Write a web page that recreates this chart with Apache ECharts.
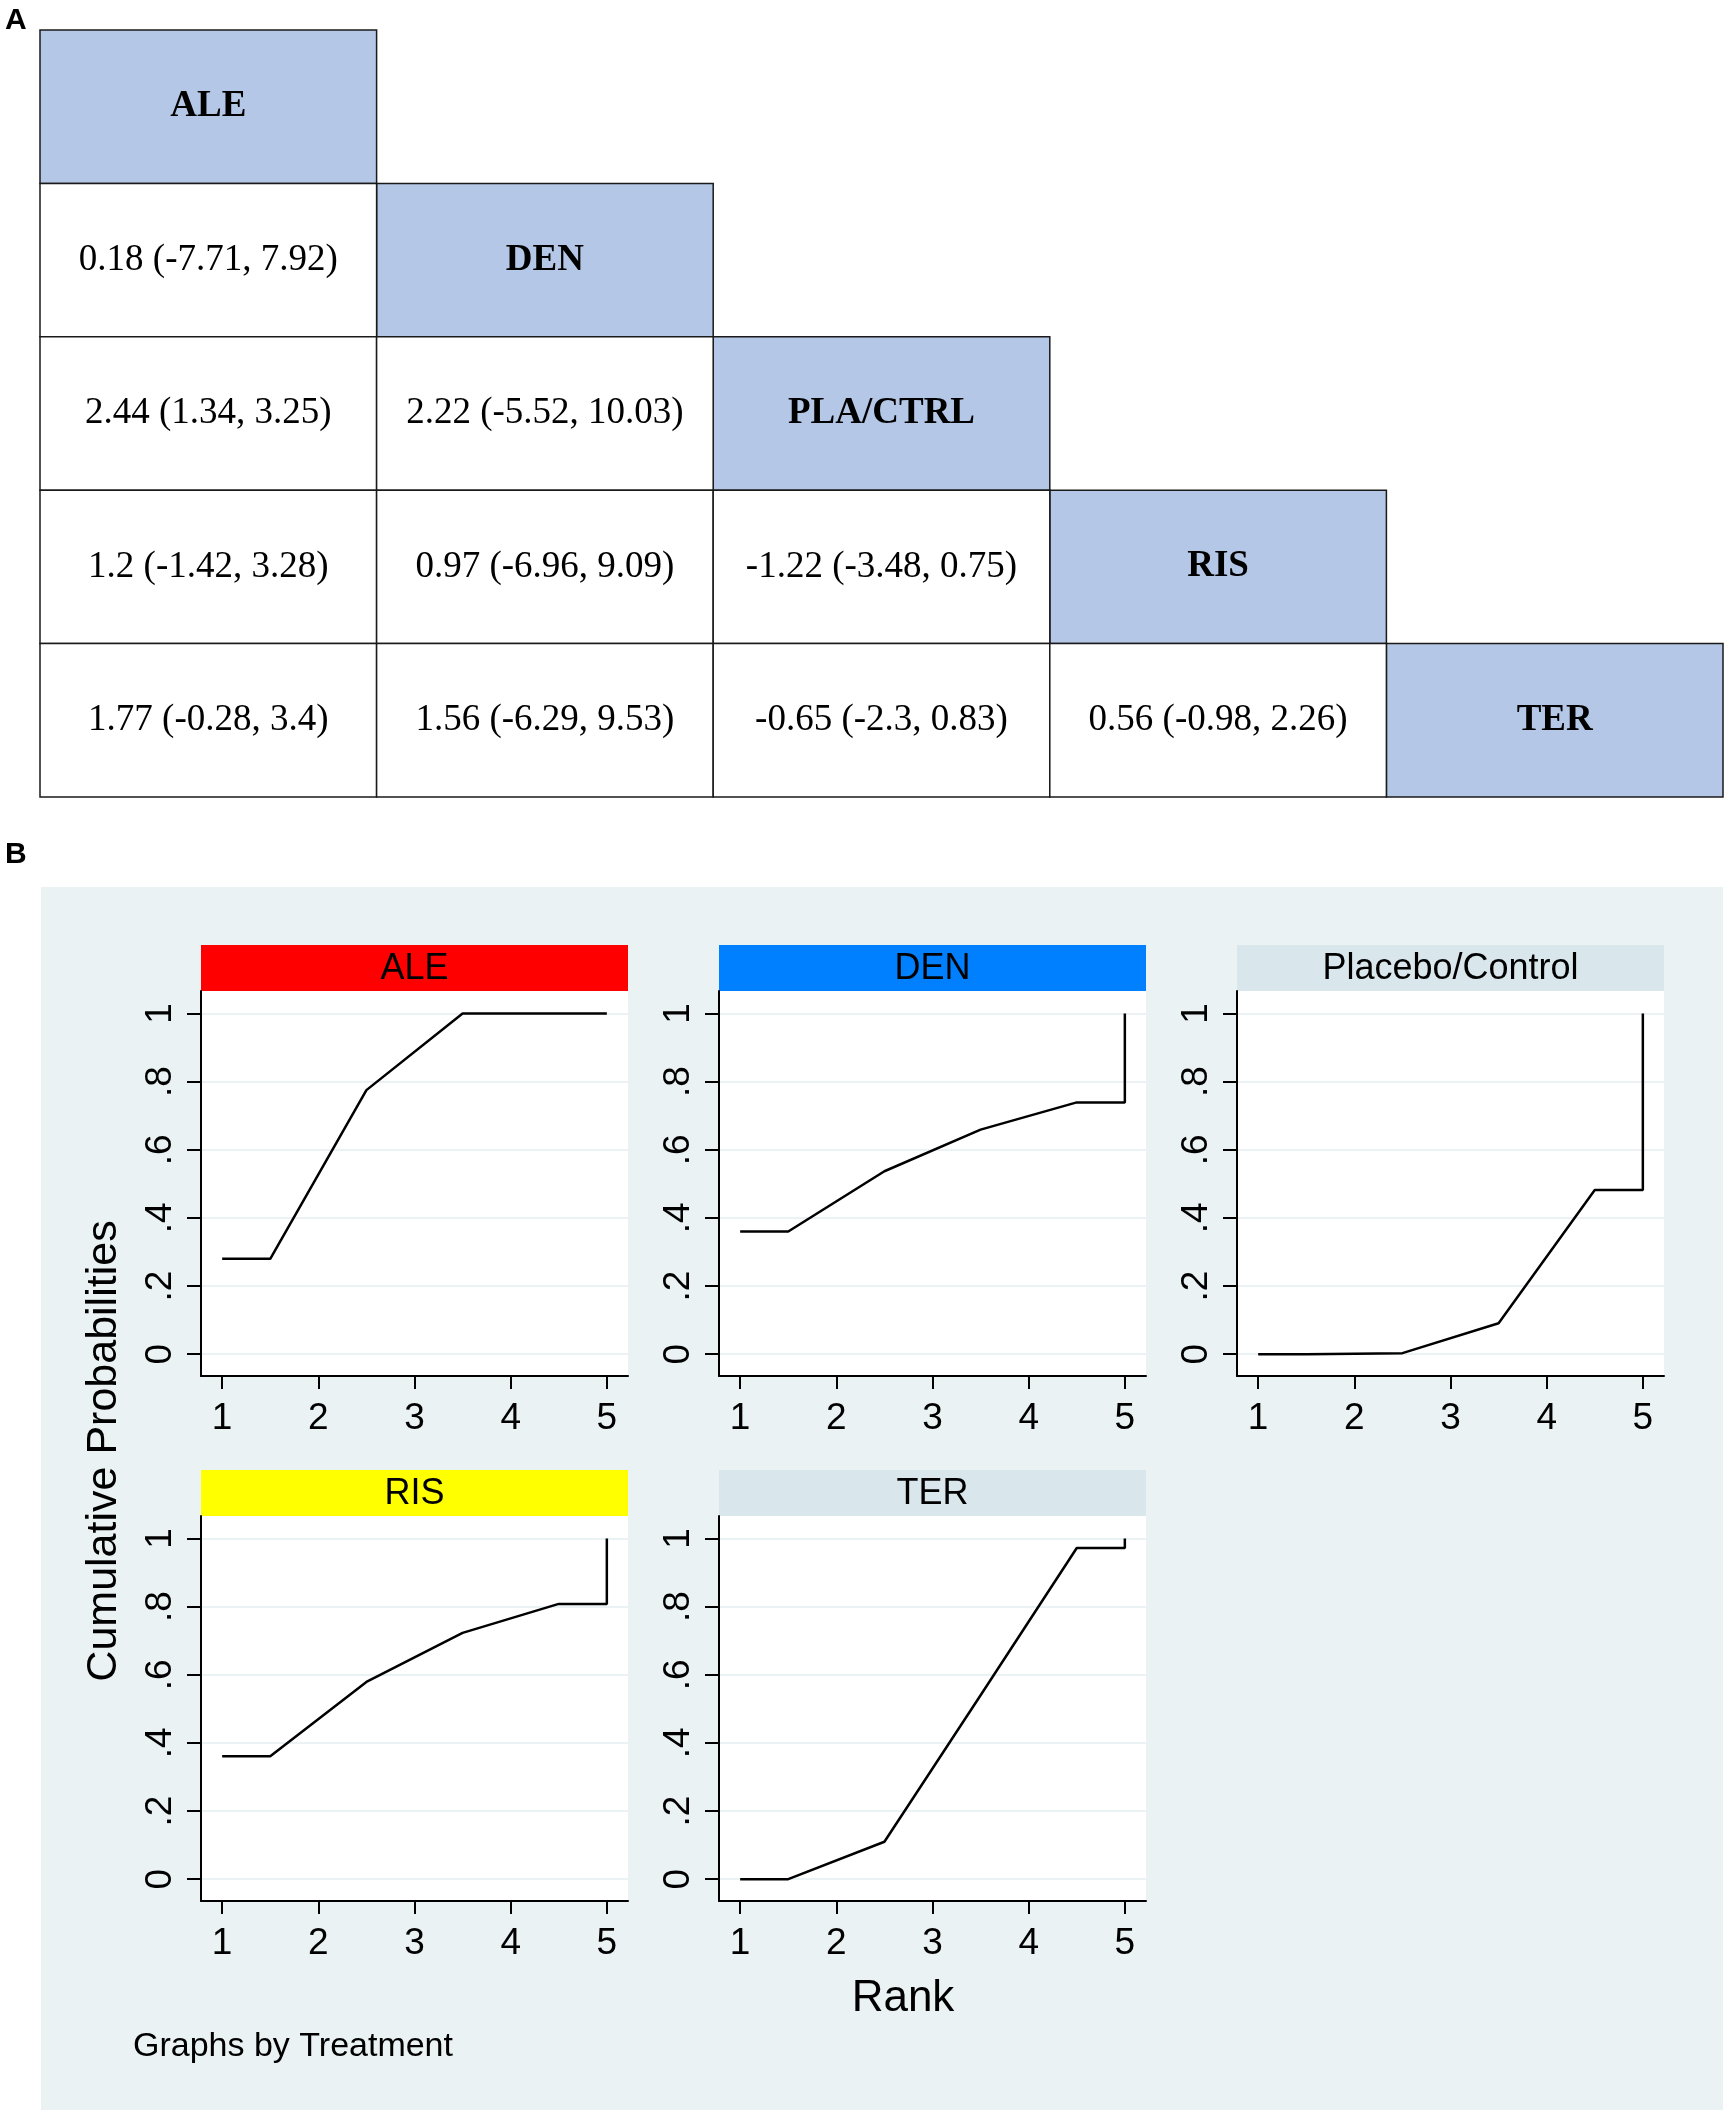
<!DOCTYPE html>
<html lang="en">
<head>
<meta charset="UTF-8">
<title>League table and cumulative rank probabilities</title>
<style>
  * { margin: 0; padding: 0; }
  body { background: #fff; }
  #main { width: 1733px; height: 2116px; }
</style>
</head>
<body>
<div id="main"></div>
<script src="https://cdn.jsdelivr.net/npm/echarts@6/dist/echarts.min.js"></script>
<script>
// panel A - league table (diagonal = treatments, below = comparisons)
const leagueNames = ['ALE', 'DEN', 'PLA/CTRL', 'RIS', 'TER'];
const leagueRows = [
    [],
    ['0.18 (-7.71, 7.92)'],
    ['2.44 (1.34, 3.25)', '2.22 (-5.52, 10.03)'],
    ['1.2 (-1.42, 3.28)', '0.97 (-6.96, 9.09)', '-1.22 (-3.48, 0.75)'],
    ['1.77 (-0.28, 3.4)', '1.56 (-6.29, 9.53)', '-0.65 (-2.3, 0.83)', '0.56 (-0.98, 2.26)']
];

// panel B - cumulative rank probabilities
const panelTitles = ['ALE', 'DEN', 'Placebo/Control', 'RIS', 'TER'];
const rankX = [1, 1.5, 2.5, 3.5, 4.5, 5, 5];
const cumALE = [0.28, 0.28, 0.775, 1, 1, 1, 1];
const cumDEN = [0.36, 0.36, 0.537, 0.659, 0.739, 0.739, 1];
const cumPLA = [0, 0, 0.003, 0.091, 0.482, 0.482, 1];
const cumRIS = [0.361, 0.361, 0.579, 0.723, 0.808, 0.808, 1];
const cumTER = [0, 0, 0.11, 0.54, 0.972, 0.972, 1];
const rankTicks = [1, 2, 3, 4, 5];
const probTicks = [0, 0.2, 0.4, 0.6, 0.8, 1];

const cumSeries = [cumALE, cumDEN, cumPLA, cumRIS, cumTER];
const stripColors = ['#ff0000', '#0080ff', '#d9e6eb', '#ffff00', '#d9e6eb'];

const SANS = '"Liberation Sans", Arial, sans-serif';
const SERIF = '"Liberation Serif", "Times New Roman", serif';

// layout of the small multiples
const panelLeft = [201, 719, 1237, 201, 719];
const panelTop = [991, 991, 991, 1516, 1516];
const PW = 427, PH = 385, STRIP = 46;

// table cells
const tableCells = [];
leagueNames.forEach((name, i) => {
    tableCells.push({ value: [i, i], text: name, head: true });
    leagueRows[i].forEach((txt, j) => tableCells.push({ value: [j, i], text: txt, head: false }));
});

const grids = [{ left: 40, top: 30, width: 1683, height: 767 }];
const xAxes = [{
    gridIndex: 0, type: 'category', data: leagueNames.map((n, i) => i), show: false
}];
const yAxes = [{
    gridIndex: 0, type: 'category', data: leagueNames.map((n, i) => i), inverse: true, show: false
}];
const series = [{
    type: 'custom',
    xAxisIndex: 0,
    yAxisIndex: 0,
    data: tableCells.map(c => c.value),
    renderItem: function (params, api) {
        const cell = tableCells[params.dataIndex];
        const c = api.coord([api.value(0), api.value(1)]);
        const s = api.size([1, 1]);
        return {
            type: 'group',
            children: [{
                type: 'rect',
                shape: { x: c[0] - s[0] / 2, y: c[1] - s[1] / 2, width: s[0], height: s[1] },
                style: { fill: cell.head ? '#b4c7e7' : '#ffffff', stroke: '#1a1a1a', lineWidth: 1.5 }
            }, {
                type: 'text',
                style: {
                    text: cell.text, x: c[0], y: c[1], align: 'center', verticalAlign: 'middle',
                    font: (cell.head ? 'bold 37px ' : '37px ') + SERIF, fill: '#000'
                }
            }]
        };
    }
}];

const graphics = [
    { type: 'rect', z: -100, shape: { x: 41, y: 887, width: 1682, height: 1223 }, style: { fill: '#eaf2f3' } },
    { type: 'text', style: { text: 'A', x: 5, y: 21, verticalAlign: 'middle', font: 'bold 30px ' + SANS, fill: '#000' } },
    { type: 'text', style: { text: 'B', x: 5, y: 855, verticalAlign: 'middle', font: 'bold 30px ' + SANS, fill: '#000' } },
    {
        type: 'text', x: 104, y: 1451, rotation: Math.PI / 2,
        style: { text: 'Cumulative Probabilities', align: 'center', verticalAlign: 'middle', font: '43px ' + SANS, fill: '#000' }
    },
    { type: 'text', style: { text: 'Rank', x: 903, y: 1999, align: 'center', verticalAlign: 'middle', font: '44px ' + SANS, fill: '#000' } },
    { type: 'text', style: { text: 'Graphs by Treatment', x: 133, y: 2047, verticalAlign: 'middle', font: '34px ' + SANS, fill: '#000' } }
];

panelTitles.forEach((title, k) => {
    const g = k + 1;
    grids.push({
        left: panelLeft[k], top: panelTop[k], width: PW, height: PH,
        show: true, backgroundColor: '#ffffff', borderWidth: 0
    });
    xAxes.push({
        gridIndex: g, type: 'value', min: 0.78, max: 5.22,
        axisLine: { show: true, onZero: false, lineStyle: { color: '#000', width: 2 } },
        axisTick: { show: true, length: 13, customValues: rankTicks, lineStyle: { color: '#000', width: 2 } },
        axisLabel: { customValues: rankTicks, margin: 24, fontSize: 37, fontFamily: SANS, color: '#000' },
        splitLine: { show: false }
    });
    yAxes.push({
        gridIndex: g, type: 'value', min: -0.064, max: 1.066,
        axisLine: { show: true, onZero: false, lineStyle: { color: '#000', width: 2 } },
        axisTick: { show: true, length: 14, customValues: probTicks, lineStyle: { color: '#000', width: 2 } },
        axisLabel: {
            customValues: probTicks, rotate: 90, margin: 22, fontSize: 37, fontFamily: SANS, color: '#000',
            formatter: v => (v === 0 || v === 1) ? String(v) : String(v).replace(/^0/, '')
        },
        splitLine: { show: true, lineStyle: { color: '#eaf2f3', width: 2 } }
    });
    series.push({
        type: 'line',
        name: title,
        xAxisIndex: g,
        yAxisIndex: g,
        showSymbol: false,
        lineStyle: { color: '#000', width: 2.5 },
        data: rankX.map((x, i) => [x, cumSeries[k][i]])
    });
    graphics.push({
        type: 'rect',
        shape: { x: panelLeft[k], y: panelTop[k] - STRIP, width: PW, height: STRIP },
        style: { fill: stripColors[k] }
    });
    graphics.push({
        type: 'text',
        style: {
            text: title, x: panelLeft[k] + PW / 2, y: panelTop[k] - STRIP / 2 + 1,
            align: 'center', verticalAlign: 'middle', font: '36px ' + SANS, fill: '#000'
        }
    });
});

const chart = echarts.init(document.getElementById('main'), null, { renderer: 'canvas' });
chart.setOption({
    animation: false,
    backgroundColor: '#ffffff',
    grid: grids,
    xAxis: xAxes,
    yAxis: yAxes,
    series: series,
    graphic: graphics
});
</script>
</body>
</html>
